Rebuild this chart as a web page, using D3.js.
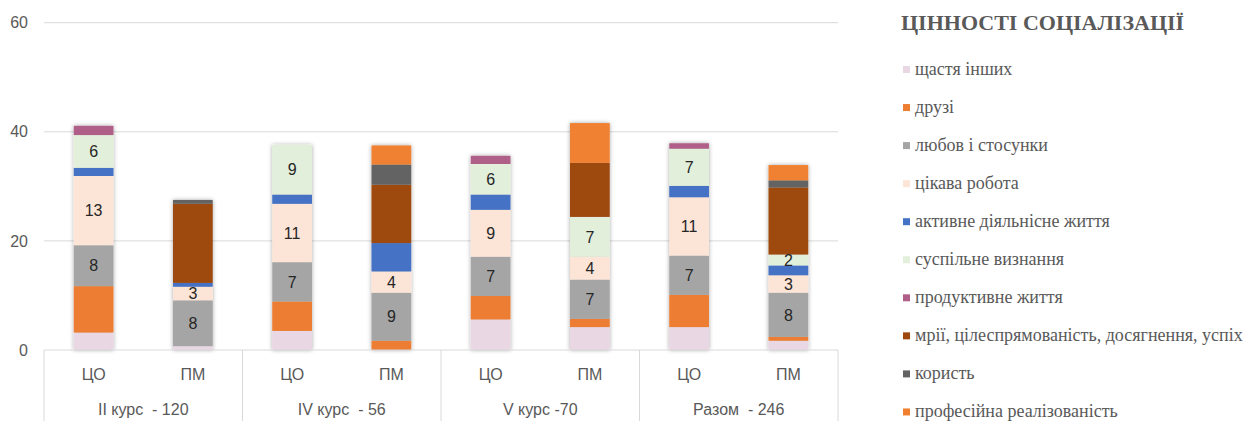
<!DOCTYPE html>
<html>
<head>
<meta charset="utf-8">
<script src="https://cdn.jsdelivr.net/npm/d3@7"></script>
<style>
  body { margin: 0; background: #fff; }
  text { font-family: "Liberation Sans Narrow", "Liberation Sans", sans-serif; fill: #595959; }
  .legend text { font-family: "Liberation Serif", "DejaVu Serif", serif; }
</style>
</head>
<body>
<script>
// groups and bars (in drawing order)
var groups = ["II курс  - 120", "IV курс  - 56", "V курс -70", "Разом  - 246"];
var subs = ["ЦО", "ПМ"];
var yTicks = [0, 20, 40, 60];

var seriesNames = [
  "щастя інших",
  "друзі",
  "любов і стосунки",
  "цікава робота",
  "активне діяльнісне життя",
  "суспільне визнання",
  "продуктивне життя",
  "мрії, цілеспрямованість, досягнення, успіх",
  "користь",
  "професійна реалізованість"
];

// values per bar: II ЦО, II ПМ, IV ЦО, IV ПМ, V ЦО, V ПМ, Разом ЦО, Разом ПМ
var shchastia   = [3.2, 0.7, 3.5, 0,    5.6, 4.2, 4.2, 1.7];
var druzi       = [8.5, 0,   5.4, 1.7,  4.3, 1.5, 5.9, 0.7];
var liubov      = [7.5, 8.4, 7.2, 8.8,  7.2, 7.2, 7.2, 8.1];
var tsikava     = [12.7, 2.5, 10.7, 3.9, 8.6, 4.2, 10.7, 3.2];
var aktyvne     = [1.5, 0.7, 1.7, 5.2,  2.8, 0,   2.1, 1.8];
var suspilne    = [6.0, 0,   9.1, 0,    5.6, 7.3, 6.8, 2.0];
var produktyvne = [1.7, 0,   0,   0,    1.5, 0,   1.0, 0];
var mrii        = [0,   14.5, 0,  10.7, 0,   9.9, 0,   12.3];
var koryst      = [0,   0.7, 0,   3.7,  0,   0,   0,   1.3];
var profesiina  = [0,   0,   0,   3.5,  0,   7.3, 0,   2.8];

var allValues = [shchastia, druzi, liubov, tsikava, aktyvne, suspilne, produktyvne, mrii, koryst, profesiina];
var colors = ["#e9d7e3", "#ed7d31", "#a5a5a5", "#fce4d6", "#4472c4", "#e2efda", "#b06088", "#9e480e", "#636363", "#f08030"];
var labelled = [2, 3, 5]; // series with data labels

var W = 1250, H = 421;
var plotLeft = 44, plotRight = 838, plotTop = 22.7, plotBottom = 350;

var bars = [];
groups.forEach(function(g, gi) {
  subs.forEach(function(s, si) { bars.push({ key: gi + "-" + si, group: g, sub: s, idx: gi * 2 + si }); });
});

var table = bars.map(function(b) {
  var row = { key: b.key };
  seriesNames.forEach(function(n, i) { row[n] = allValues[i][b.idx]; });
  return row;
});

var stacked = d3.stack().keys(seriesNames)(table);

var x = d3.scaleBand()
  .domain(bars.map(function(b) { return b.key; }))
  .range([plotLeft, plotRight])
  .paddingInner(0.6)
  .paddingOuter(0.3);

var y = d3.scaleLinear().domain([0, 60]).range([plotBottom, plotTop]);

var svg = d3.select("body").append("svg")
  .attr("width", W)
  .attr("height", H);

var defs = svg.append("defs");
defs.append("filter").attr("id", "shadow")
  .attr("x", "-30%").attr("y", "-10%").attr("width", "160%").attr("height", "120%")
  .append("feDropShadow")
  .attr("dx", 0).attr("dy", 0).attr("stdDeviation", 2)
  .attr("flood-color", "#000").attr("flood-opacity", 0.35);

// gridlines
svg.append("g")
  .selectAll("line")
  .data(yTicks.slice(1))
  .enter().append("line")
  .attr("x1", plotLeft).attr("x2", plotRight)
  .attr("y1", function(d) { return y(d); })
  .attr("y2", function(d) { return y(d); })
  .attr("stroke", "#d9d9d9")
  .attr("stroke-width", 1);

// y labels
svg.append("g")
  .selectAll("text")
  .data(yTicks)
  .enter().append("text")
  .attr("x", 28)
  .attr("y", function(d) { return y(d); })
  .attr("dy", "0.35em")
  .attr("text-anchor", "end")
  .style("font-size", "16px")
  .text(function(d) { return d; });

// bars
var barG = svg.append("g");
bars.forEach(function(b, bi) {
  var g = barG.append("g").attr("filter", "url(#shadow)");
  stacked.forEach(function(layer, si) {
    var seg = layer[bi];
    if (seg[1] - seg[0] <= 0) return;
    g.append("rect")
      .attr("x", x(b.key))
      .attr("width", x.bandwidth())
      .attr("y", y(seg[1]))
      .attr("height", y(seg[0]) - y(seg[1]))
      .attr("fill", colors[si]);
  });
});

// data labels
stacked.forEach(function(layer, si) {
  if (labelled.indexOf(si) < 0) return;
  layer.forEach(function(seg, bi) {
    var v = seg[1] - seg[0];
    if (v <= 0) return;
    svg.append("text")
      .attr("x", x(bars[bi].key) + x.bandwidth() / 2)
      .attr("y", y((seg[0] + seg[1]) / 2))
      .attr("dy", "0.36em")
      .attr("text-anchor", "middle")
      .style("font-size", "16px")
      .style("fill", "#262626")
      .text(Math.round(v));
  });
});

// category axis
var axisG = svg.append("g");
var step = x.step();
axisG.append("line")
  .attr("x1", plotLeft).attr("x2", plotRight)
  .attr("y1", plotBottom).attr("y2", plotBottom)
  .attr("stroke", "#d9d9d9");
for (var i = 0; i <= groups.length; i++) {
  axisG.append("line")
    .attr("x1", plotLeft + i * 2 * step).attr("x2", plotLeft + i * 2 * step)
    .attr("y1", plotBottom).attr("y2", H)
    .attr("stroke", "#d9d9d9");
}
axisG.selectAll("text.sub")
  .data(bars)
  .enter().append("text")
  .attr("class", "sub")
  .attr("x", function(d) { return x(d.key) + x.bandwidth() / 2; })
  .attr("y", 374)
  .attr("dy", "0.35em")
  .attr("text-anchor", "middle")
  .style("font-size", "16px")
  .text(function(d) { return d.sub; });
axisG.selectAll("text.grp")
  .data(groups)
  .enter().append("text")
  .attr("class", "grp")
  .attr("x", function(d, i) { return plotLeft + (i * 2 + 1) * step; })
  .attr("y", 409)
  .attr("dy", "0.35em")
  .attr("text-anchor", "middle")
  .style("font-size", "16px")
  .style("white-space", "pre")
  .text(function(d) { return d; });

// legend
var legend = svg.append("g").attr("class", "legend");
legend.append("text")
  .attr("x", 901)
  .attr("y", 30)
  .style("font-family", "'Liberation Serif', serif")
  .style("font-size", "22px")
  .style("font-weight", "bold")
  .text("ЦІННОСТІ СОЦІАЛІЗАЦІЇ");
var items = legend.selectAll("g.item")
  .data(seriesNames)
  .enter().append("g")
  .attr("class", "item")
  .attr("transform", function(d, i) { return "translate(903," + (70 + i * 38.05) + ")"; });
items.append("rect")
  .attr("x", 0).attr("y", -4).attr("width", 7).attr("height", 7)
  .attr("fill", function(d, i) { return colors[i]; });
items.append("text")
  .attr("x", 12)
  .attr("dy", "0.28em")
  .style("font-family", "'Liberation Serif', serif")
  .style("font-size", "18px")
  .text(function(d) { return d; });
</script>
</body>
</html>
